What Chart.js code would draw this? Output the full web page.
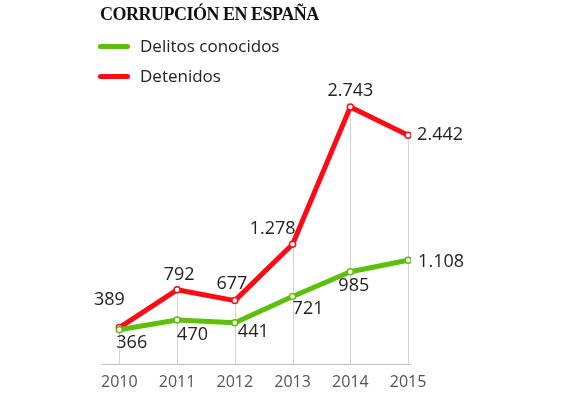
<!DOCTYPE html>
<html>
<head>
<meta charset="utf-8">
<script src="https://cdn.jsdelivr.net/npm/chart.js@4/dist/chart.umd.min.js"></script>
<style>
  html, body { margin: 0; padding: 0; background: #fff; }
  #wrap { position: relative; width: 567px; height: 393px; }
  #chart { position: absolute; left: 0; top: 0; }
  .title { position: absolute; left: 100px; top: 4px; font: bold 18px "Liberation Serif", serif; color: #111; letter-spacing: -0.5px; }
  .leg { position: absolute; left: 98px; font: 17px "Open Sans", sans-serif; color: #222; }
  .leg i { display: inline-block; width: 32px; height: 5px; border-radius: 3px; vertical-align: middle; margin-right: 10px; position: relative; top: -1px; }
</style>
</head>
<body>
<div id="wrap">
  <canvas id="chart" width="567" height="393"></canvas>
  <div class="title">CORRUPCIÓN EN ESPAÑA</div>
  <div class="leg" style="top:34px"><i style="background:#5cbf0a"></i>Delitos conocidos</div>
  <div class="leg" style="top:64px"><i style="background:#ff0a14"></i>Detenidos</div>
</div>
<script>
const years = [2010, 2011, 2012, 2013, 2014, 2015];
const delitos = [366, 470, 441, 721, 985, 1108];
const detenidos = [389, 792, 677, 1278, 2743, 2442];
const yearTicks = ['2010', '2011', '2012', '2013', '2014', '2015'];

// label offsets relative to each point: [dx, dy, align]
const redLabelPos = [[-10, -28, 'center'], [2, -15, 'center'], [-3, -17, 'center'], [3, -15, 'right'], [0, -16, 'center'], [9, 0, 'left']];
const greenLabelPos = [[-3, 13, 'left'], [0, 15, 'left'], [3, 9, 'left'], [0, 12, 'left'], [-12, 14, 'left'], [10, 2, 'left']];

const fmt = v => v >= 1000 ? Math.floor(v / 1000) + '.' + String(v % 1000).padStart(3, '0') : String(v);

const decor = {
    id: 'decor',
    beforeDatasetsDraw(chart) {
        const { ctx, scales: { x, y } } = chart;
        ctx.save();
        ctx.strokeStyle = '#d4d4d4';
        ctx.lineWidth = 1;
        years.forEach((yr, i) => {
            const px = Math.round(x.getPixelForValue(yr)) + 0.5;
            const top = y.getPixelForValue(Math.max(delitos[i], detenidos[i]));
            ctx.beginPath();
            ctx.moveTo(px, y.getPixelForValue(0));
            ctx.lineTo(px, top);
            ctx.stroke();
        });
        ctx.strokeStyle = '#bdbdbd';
        ctx.beginPath();
        const by = Math.round(y.getPixelForValue(0)) + 0.5;
        ctx.moveTo(x.left, by);
        ctx.lineTo(x.right, by);
        ctx.stroke();
        ctx.restore();
    },
    afterDatasetsDraw(chart) {
        const { ctx } = chart;
        ctx.save();
        ctx.font = '18px "Open Sans", sans-serif';
        ctx.fillStyle = '#222';
        ctx.textBaseline = 'middle';
        const draw = (dsIndex, vals, pos) => {
            const meta = chart.getDatasetMeta(dsIndex);
            meta.data.forEach((pt, i) => {
                const [dx, dy, al] = pos[i];
                ctx.textAlign = al;
                ctx.fillText(fmt(vals[i]), pt.x + dx, pt.y + dy);
            });
        };
        draw(0, delitos, greenLabelPos);
        draw(1, detenidos, redLabelPos);
        ctx.restore();
    }
};

new Chart(document.getElementById('chart'), {
    type: 'line',
    data: {
        datasets: [{
            label: 'Delitos conocidos',
            data: years.map((yr, i) => ({ x: yr, y: delitos[i] })),
            borderColor: '#5cbf0a',
            borderWidth: 5,
            pointRadius: 3,
            pointBorderWidth: 1.5,
            pointBackgroundColor: '#fff',
            pointBorderColor: '#5cbf0a',
            borderCapStyle: 'round',
            borderJoinStyle: 'round',
            tension: 0
        }, {
            label: 'Detenidos',
            data: years.map((yr, i) => ({ x: yr, y: detenidos[i] })),
            borderColor: '#ff0a14',
            borderWidth: 5,
            pointRadius: 3,
            pointBorderWidth: 1.5,
            pointBackgroundColor: '#fff',
            pointBorderColor: '#ff0a14',
            borderCapStyle: 'round',
            borderJoinStyle: 'round',
            tension: 0
        }]
    },
    options: {
        responsive: false,
        animation: false,
        layout: { padding: { left: 102, right: 156, top: 83, bottom: 1 } },
        plugins: { legend: { display: false }, tooltip: { enabled: false } },
        scales: {
            x: {
                type: 'linear',
                min: 2009.7,
                max: 2015.05,
                afterBuildTicks: axis => { axis.ticks = years.map(v => ({ value: v })); },
                grid: { display: false },
                border: { display: false },
                ticks: {
                    color: '#555',
                    font: { family: 'Open Sans', size: 16, lineHeight: 1 },
                    padding: 2,
                    callback: (v) => yearTicks[years.indexOf(v)]
                }
            },
            y: {
                min: 0,
                max: 3000,
                display: false
            }
        }
    },
    plugins: [decor]
});
</script>
</body>
</html>
